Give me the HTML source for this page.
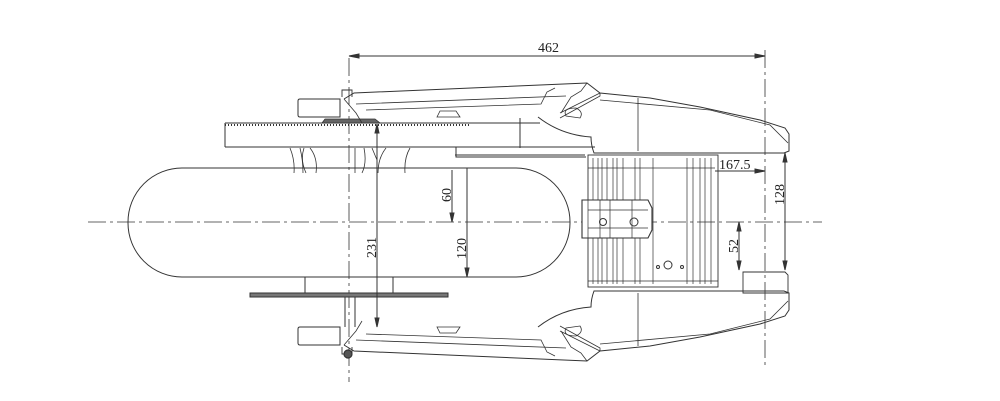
<!DOCTYPE html>
<html><head><meta charset="utf-8"><style>
html,body{margin:0;padding:0;background:#fff;}
svg{display:block;}
text{font-family:"Liberation Serif",serif;font-size:14px;font-weight:normal;fill:#222;stroke:none;}
</style></head><body>
<svg width="1000" height="401" viewBox="0 0 1000 401" xmlns="http://www.w3.org/2000/svg" fill="none" stroke="#333" stroke-width="1">
<!-- centerlines -->
<line x1="88" y1="222" x2="822" y2="222" stroke-dasharray="18,4,3,4" stroke-width="0.8"/>
<line x1="349" y1="58" x2="349" y2="382" stroke-dasharray="18,4,3,4" stroke-width="0.8"/>
<line x1="765" y1="50" x2="765" y2="365" stroke-dasharray="18,4,3,4" stroke-width="0.8"/>
<!-- 462 -->
<line x1="349" y1="56" x2="765" y2="56"/>
<path d="M349 56 l10 -2 v4z M765 56 l-10 -2 v4z" fill="#333"/>
<text x="538" y="52">462</text>

<!-- stadium -->
<rect x="128" y="168" width="442" height="109" rx="54" ry="54"/>

<!-- upper plate -->
<path d="M225 123 h315 M225 147 h370 M225 123 v24"/>
<line x1="225" y1="125" x2="470" y2="125" stroke-dasharray="1,2" stroke-width="2"/>
<path d="M456 147 v10 h130 M455 155 h130 M520 118 v30"/>
<path d="M290 148 q5 12 4 25 M304 148 q-4 12 2 25 M310 148 q8 10 6 25 M355 148 v25 M364 148 q3 15 -2 25 M372 148 l5 12 M386 148 q-8 10 -8 25 M410 148 q-6 10 -5 25 M300 148 q3 12 3 25" stroke-width="0.8"/>
<path d="M322 123 l3 -4 h50 l5 4z" fill="#666" stroke-width="0.8"/>

<!-- upper arm group, mirrored below -->
<g id="arm">
<path d="M340 117 h-40 q-2 0 -2 -2 v-14 q0 -2 2 -2 h40 z"/>
<path d="M344 99 l10 -6 l233 -10 l13 10 l50 5 l50 9 l60 13 l25 8 l4 6 v17 l-5 2 h-190 q-3 -8 -3 -16 q-30 -2 -53 -20"/>
<path d="M344 99 l12 14 l6 10 M356 104 l210 -8 M366 110 l175 -6 l6 -12 l8 -4 M587 83 l-6 8 l-10 6 l-10 16 M600 93 l-40 20 M600 93 v3 l-40 22 M638 98 v53 M600 100 l110 10 l60 15 l18 18" stroke-width="0.8"/>
<path d="M342 97 v-7 h10 v7" stroke-width="0.9"/>
<path d="M437 117 l3 -6 h16 l4 6 z" stroke-width="0.8"/>
<path d="M566 116 q-4 -8 10 -8 q8 4 4 10 z" stroke-width="0.8"/>
</g>
<use href="#arm" transform="matrix(1,0,0,-1,0,444)"/>

<!-- track frame -->
<rect x="588" y="155" width="130" height="132" stroke-width="0.9"/>
<path d="M593 158 v126 M598 158 v126 M602 158 v126 M607 158 v126 M613 158 v126 M617 158 v126 M623 158 v126 M635 158 v126 M640 158 v126 M653 158 v126 M687 158 v126 M693 158 v126 M700 158 v126 M705 158 v126 M711 158 v126 M588 168 h127 M588 281 h130" stroke-width="0.7"/>
<!-- bracket -->
<path d="M582 200 h66 l4 8 v22 l-4 8 h-66 z" fill="#fff" stroke-width="1.1"/>
<path d="M588 200 v38 M600 200 v38 M610 200 v38 M632 200 v38 M588 210 h60 M588 228 h60" stroke-width="0.7"/>
<circle cx="603" cy="222" r="3.5"/><circle cx="634" cy="222" r="4"/>
<circle cx="668" cy="265" r="4"/><circle cx="658" cy="267" r="1.5"/><circle cx="682" cy="267" r="1.5"/>
<!-- bottom right small block -->
<path d="M743 272 h42 l3 3 v18 h-45z" stroke-width="0.9"/>

<!-- lower plate -->
<rect x="250" y="293" width="198" height="4" fill="#777"/>
<path d="M305 277 v16 M393 277 v16 M345 297 v30 M355 297 v30"/>
<circle cx="348" cy="354" r="4" stroke-width="1.2" fill="#555"/>

<!-- dims -->
<line x1="377" y1="124" x2="377" y2="327"/>
<path d="M377 124 l-2 9 h4z M377 327 l-2 -9 h4z" fill="#333"/>
<text transform="translate(376,258) rotate(-90)">231</text>
<line x1="452" y1="170" x2="452" y2="222"/>
<path d="M452 222 l-2 -9 h4z" fill="#333"/>
<text transform="translate(451,202) rotate(-90)">60</text>
<line x1="467" y1="168" x2="467" y2="277"/>
<path d="M467 277 l-2 -9 h4z" fill="#333"/>
<text transform="translate(466,259) rotate(-90)">120</text>
<line x1="715" y1="171" x2="765" y2="171"/>
<path d="M765 171 l-10 -2 v4z" fill="#333"/>
<text x="719" y="169">167.5</text>
<line x1="785" y1="153" x2="785" y2="270"/>
<path d="M785 153 l-2 9 h4z M785 270 l-2 -9 h4z" fill="#333"/>
<text transform="translate(784,205) rotate(-90)">128</text>
<line x1="739" y1="222" x2="739" y2="270"/>
<path d="M739 222 l-2 9 h4z M739 270 l-2 -9 h4z" fill="#333"/>
<text transform="translate(738,253) rotate(-90)">52</text>
</svg>
</body></html>
